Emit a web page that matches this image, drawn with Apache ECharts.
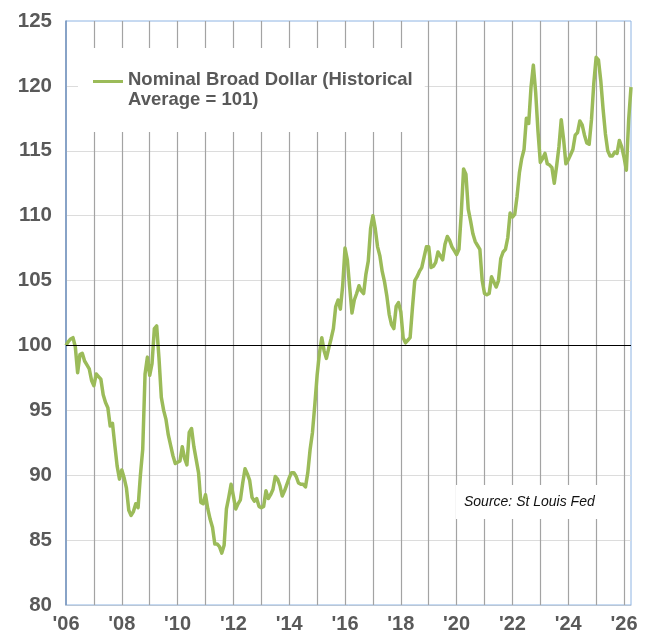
<!DOCTYPE html>
<html>
<head>
<meta charset="utf-8">
<script src="https://cdn.jsdelivr.net/npm/echarts@6/dist/echarts.min.js"></script>
<style>
  html, body { margin: 0; padding: 0; background: #fff; }
  #chart { width: 652px; height: 637px; }
</style>
</head>
<body>
<div id="chart"></div>
<script>
// monthly values, first month Jan 2006
const startYear = 2006
const dollarIndex = [
  100.0, 100.3, 100.5, 100.6, 99.9, 97.9, 99.3, 99.4, 98.8, 98.5, 98.2, 97.3,
  96.9, 97.8, 97.6, 97.4, 96.2, 95.6, 95.2, 93.8, 94.0, 92.3, 90.7, 89.7,
  90.4, 89.8, 89.0, 87.3, 86.9, 87.2, 87.8, 87.5, 90.0, 92.0, 97.8, 99.1,
  97.7, 98.6, 101.3, 101.5, 99.0, 96.0, 95.0, 94.3, 93.1, 92.3, 91.5, 90.9,
  91.0, 91.1, 92.2, 91.3, 90.8, 93.3, 93.6, 92.2, 91.2, 90.2, 87.9, 87.8,
  88.5, 87.4, 86.6, 86.0, 84.7, 84.7, 84.5, 84.0, 84.6, 87.4, 88.3, 89.3,
  88.4, 87.4, 87.8, 88.1, 89.4, 90.5, 90.1, 89.6, 88.3, 88.0, 88.2, 87.6,
  87.5, 87.6, 88.8, 88.2, 88.5, 88.9, 89.9, 89.7, 89.2, 88.4, 88.8, 89.3,
  89.8, 90.2, 90.2, 89.9, 89.4, 89.3, 89.3, 89.1, 90.2, 92.0, 93.3, 95.4,
  97.7, 99.4, 100.6, 99.6, 99.0, 99.8, 100.5, 101.3, 103.0, 103.5, 102.8, 104.6,
  107.5, 106.6, 104.5, 102.5, 103.5, 104.0, 104.6, 104.2, 104.0, 105.5, 106.5, 109.0,
  110.0, 109.0, 107.6, 106.9, 105.7, 104.9, 103.8, 102.4, 101.6, 101.3, 103.0, 103.3,
  102.6, 100.6, 100.2, 100.4, 100.6, 102.9, 105.0, 105.3, 105.7, 106.0, 106.8, 107.6,
  107.6, 106.0, 106.1, 106.4, 107.2, 106.9, 106.6, 107.8, 108.4, 108.1, 107.6, 107.3,
  107.0, 107.4, 110.2, 113.6, 113.2, 110.5, 109.6, 108.6, 108.0, 107.7, 107.4, 105.0,
  104.0, 103.9, 104.0, 105.3, 104.9, 104.5, 105.0, 106.7, 107.2, 107.4, 108.3, 110.2,
  109.9, 110.1, 111.5, 113.3, 114.4, 115.1, 117.5, 117.1, 119.9, 121.6, 119.5, 116.5,
  114.1, 114.4, 114.8, 114.0, 113.9, 113.7, 112.5, 113.8, 115.3, 117.4, 115.9, 114.0,
  114.3, 114.7, 115.1, 116.2, 116.4, 117.3, 117.0, 116.2, 115.6, 115.5, 117.4, 120.2,
  122.2, 122.0, 120.4, 118.2, 116.3, 115.0, 114.6, 114.6, 114.9, 114.8, 115.8, 115.3,
  114.5, 113.5, 117.4, 119.9
]
const historicalRef = 100
const seriesName = 'Nominal Broad Dollar (Historical Average = 101)'
const legendLines = ['Nominal Broad Dollar (Historical', 'Average = 101)']
const sourceText = 'Source: St Louis Fed'
const yTicks = { min: 80, max: 125, step: 5 }

const lastX = startYear + (dollarIndex.length - 1) / 12
const points = dollarIndex.map((v, i) => [startYear + i / 12, v])

const font = '"Liberation Sans", Arial, Helvetica, sans-serif'
const green = '#9bbb59'
const labelGray = '#595959'

const chart = echarts.init(document.getElementById('chart'), null, { renderer: 'canvas' })

chart.setOption({
  animation: false,
  backgroundColor: '#fff',
  grid: {
    left: 66, top: 21, right: 21, bottom: 32,
    show: true,
    backgroundColor: '#fff',
    borderColor: '#8eb4e3',
    borderWidth: 1
  },
  title: {
    text: sourceText,
    left: 456,
    top: 485,
    backgroundColor: '#fff',
    padding: [10, 17, 10, 8],
    textStyle: {
      fontFamily: font,
      fontSize: 14,
      fontStyle: 'italic',
      fontWeight: 'normal',
      color: '#111'
    }
  },
  legend: {
    left: 78,
    top: 48,
    orient: 'vertical',
    backgroundColor: '#fff',
    padding: [22, 12, 22, 15],
    itemWidth: 30,
    itemHeight: 23,
    icon: 'path://M0,0h0.01v0.01h-0.01z M0,1.5h30v3h-30z M0,23h0.01v0.01h-0.01z',
    formatter: () => legendLines.join('\n'),
    textStyle: {
      fontFamily: font,
      fontSize: 18.5,
      fontWeight: 'bold',
      lineHeight: 20,
      color: labelGray
    },
    data: [seriesName]
  },
  xAxis: {
    type: 'value',
    min: startYear,
    max: lastX,
    interval: 1,
    axisLine: { show: true, lineStyle: { color: '#b9c6d6', width: 1 } },
    axisTick: { show: false },
    axisLabel: {
      margin: 9,
      fontFamily: font,
      fontSize: 20,
      fontWeight: 'bold',
      color: labelGray,
      showMaxLabel: false,
      formatter: v => (v % 2 === 0 ? "'" + String(v).slice(2) : '')
    },
    splitLine: {
      show: true,
      showMinLine: false,
      showMaxLine: false,
      lineStyle: { color: '#a3a3a3', width: 1.2 }
    }
  },
  yAxis: {
    type: 'value',
    min: yTicks.min,
    max: yTicks.max,
    interval: yTicks.step,
    axisLine: { show: true, lineStyle: { color: '#7391b8', width: 1.5 } },
    axisTick: { show: false },
    axisLabel: {
      margin: 14,
      fontFamily: font,
      fontSize: 20.5,
      fontWeight: 'bold',
      color: labelGray
    },
    splitLine: {
      show: true,
      showMinLine: false,
      showMaxLine: false,
      lineStyle: { color: '#dcdcdc', width: 1 }
    }
  },
  series: [
    {
      name: seriesName,
      type: 'line',
      data: points,
      showSymbol: false,
      symbol: 'none',
      color: green,
      lineStyle: { color: green, width: 3.5, join: 'round' },
      z: 3,
      markLine: {
        silent: true,
        symbol: 'none',
        label: { show: false },
        lineStyle: { color: '#000', width: 1, type: 'solid' },
        data: [{ yAxis: historicalRef }]
      }
    }
  ]
})
</script>
</body>
</html>
